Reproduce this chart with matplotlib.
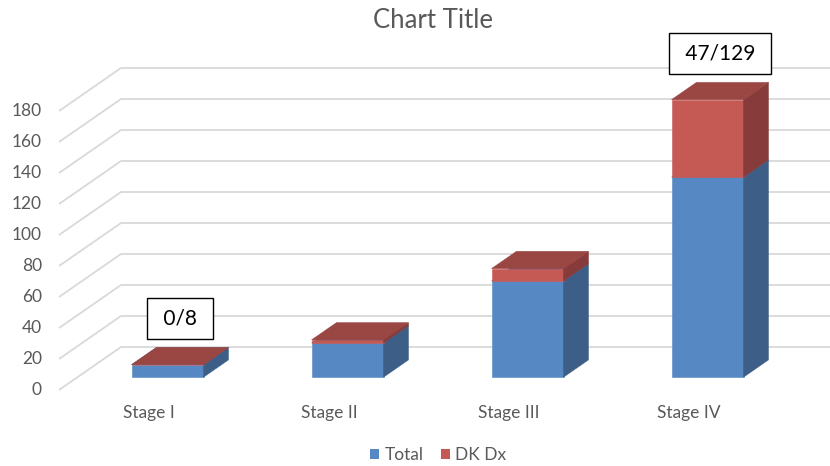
import numpy as np
import matplotlib
matplotlib.use('Agg')
import matplotlib.pyplot as plt
from matplotlib.patches import Polygon, Patch

''' data '''
stages = ['Stage I', 'Stage II', 'Stage III', 'Stage IV']
total = [8, 22, 62, 129]
dk_dx = [0, 2, 8, 50]
box_labels = ['0/8', '', '', '47/129']
yticks = list(range(0, 181, 20))

''' style '''
plt.rcParams['font.family'] = ['Lato', 'DejaVu Sans']
grey = '#595959'
grid_col = '#D9D9D9'
blue = {'front': '#5689C3', 'side': '#3C5E87', 'top': '#4A76A8'}
red = {'front': '#C55A55', 'side': '#873B3A', 'top': '#9A4643'}

W, H = 830, 466
px_per_cat = 180.   # pixels per category slot
px_per_val = 1.55   # pixels per value unit
x0_px, y0_px = 59, 390   # where (cat 0, value 0, front) lands

depth_dx = 62 / px_per_cat   # oblique offset of the full floor depth
depth_dy = 43 / px_per_val
d_front, d_back = 0.30, 0.70  # bar depth inside the floor
bar_w = 0.40

fig = plt.figure(figsize=(W / 100, H / 100), dpi=100)
ax = fig.add_axes([0, 0, 1, 1])
ax.set_xlim(-x0_px / px_per_cat, (W - x0_px) / px_per_cat)
ax.set_ylim(-(H - y0_px) / px_per_val, y0_px / px_per_val)
ax.axis('off')


def proj(x, v, d):
    return (x + d * depth_dx, v + d * depth_dy)


## gridlines: left side wall + back wall
xmax = ax.get_xlim()[1]
for v in yticks:
    p0 = proj(0, v, 0)
    p1 = proj(0, v, 1)
    ax.plot([p0[0], p1[0], xmax], [p0[1], p1[1], p1[1]], color=grid_col, lw=1.3, zorder=1,
            solid_capstyle='butt')
    ax.text(-0.095, v, str(v), ha='right', va='center', fontsize=12.5, color=grey)


def draw_box(xl, xr, b, t, cols, z):
    front = [proj(xl, b, d_front), proj(xr, b, d_front), proj(xr, t, d_front), proj(xl, t, d_front)]
    side = [proj(xr, b, d_front), proj(xr, b, d_back), proj(xr, t, d_back), proj(xr, t, d_front)]
    top = [proj(xl, t, d_front), proj(xr, t, d_front), proj(xr, t, d_back), proj(xl, t, d_back)]
    for pts, key in [(front, 'front'), (side, 'side'), (top, 'top')]:
        ax.add_patch(Polygon(pts, closed=True, facecolor=cols[key], edgecolor=cols[key],
                             lw=0.4, zorder=z))


## stacked 3D columns
for i, (t_val, r_val) in enumerate(zip(total, dk_dx)):
    xl = i + 0.5 - bar_w / 2
    xr = i + 0.5 + bar_w / 2
    draw_box(xl, xr, 0, t_val, blue, 3)
    draw_box(xl, xr, t_val, t_val + r_val, red, 4)
    ax.text(i + 0.5, -15, stages[i], ha='center', va='center', fontsize=12.5, color=grey)
    if box_labels[i]:
        bx, by = proj(i + 0.5, t_val + r_val + 24, 0.5)
        ax.text(bx, by, ' ' + box_labels[i] + ' ', ha='center', va='center', fontsize=15,
                color='black', zorder=6,
                bbox=dict(boxstyle='square,pad=0.5', facecolor='white', edgecolor='black', lw=1))

fig.text(433 / W, 1 - 20 / H, 'Chart Title', ha='center', va='center', fontsize=18.5, color=grey)

handles = [Patch(facecolor=blue['front'], label='Total'), Patch(facecolor=red['front'], label='DK Dx')]
fig.legend(handles=handles, loc='center', bbox_to_anchor=(438 / W, 11 / H), ncol=2, frameon=False,
           fontsize=12.5, handlelength=0.55, handleheight=0.55, handletextpad=0.3, columnspacing=1.0,
           labelcolor=grey)

fig.savefig('out.png', dpi=100)
